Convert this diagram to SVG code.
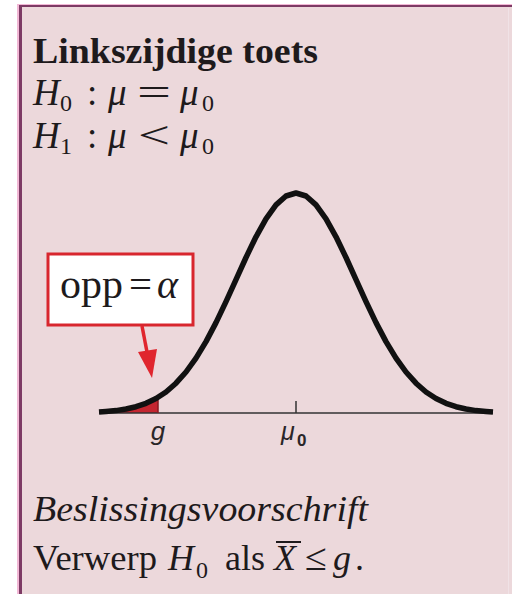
<svg xmlns="http://www.w3.org/2000/svg" width="512" height="594" viewBox="0 0 512 594">
<defs>
<style>
.t{font-family:"Liberation Serif","Times New Roman",serif;fill:#1e1a1c}
.i{font-style:italic}
.s{font-family:"Liberation Sans",Arial,sans-serif;fill:#2a2628}
</style>
</defs>
<rect x="0" y="0" width="512" height="594" fill="#ffffff"/>
<g id="panel">
<rect x="17" y="4" width="495" height="590" fill="#f2b8d6"/>
<rect x="20" y="6" width="492" height="588" fill="#ecd8db"/>
<line x1="508.5" y1="8" x2="508.5" y2="594" stroke="#f0e2e6" stroke-width="1"/>
<line x1="20.5" y1="5" x2="20.5" y2="594" stroke="#7d3a64" stroke-width="3"/>
<line x1="19" y1="6" x2="512" y2="6" stroke="#7d3a64" stroke-width="2"/>
</g>
<g id="title">
<text class="t" x="33" y="63" font-size="36" font-weight="bold" textLength="285" lengthAdjust="spacingAndGlyphs">Linkszijdige toets</text>
</g>
<g id="hypotheses" class="t" font-size="37">
<text class="t i" x="33" y="105">H</text>
<text class="t" x="60" y="111" font-size="24">0</text>
<text class="t" x="87" y="105">:</text>
<text class="t i" x="108" y="105">μ</text>
<text class="t" x="137" y="105" textLength="34" lengthAdjust="spacingAndGlyphs">=</text>
<text class="t i" x="180" y="105">μ</text>
<text class="t" x="202" y="111" font-size="24">0</text>
<text class="t i" x="33" y="148">H</text>
<text class="t" x="60" y="154" font-size="24">1</text>
<text class="t" x="87" y="148">:</text>
<text class="t i" x="108" y="148">μ</text>
<text class="t" x="138" y="148" textLength="32" lengthAdjust="spacingAndGlyphs">&lt;</text>
<text class="t i" x="180" y="148">μ</text>
<text class="t" x="202" y="154" font-size="24">0</text>
</g>
<g id="distribution">
<path d="M99,413 L99,412 L106,411.5 L116,410.6 L126,409 L136,406.7 L146,403.3 L156,398.5 L158,397.4 L158,413 Z" fill="#c42630"/>
<line x1="99" y1="413" x2="493" y2="413" stroke="#333" stroke-width="1.5"/>
<line x1="158" y1="397" x2="158" y2="413" stroke="#8a1a20" stroke-width="1.5"/>
<line x1="296" y1="401" x2="296" y2="413" stroke="#333" stroke-width="1.5"/>
<polyline fill="none" stroke="#111" stroke-width="5.5" stroke-linejoin="round" stroke-linecap="butt" points="99,412 106,411.5 116,410.6 126,409 136,406.7 146,403.3 156,398.5 166,392 176,383.2 186,372 196,358.1 206,341.6 216,322.6 226,301.6 236,279.6 246,257.5 256,236.8 266,218.8 276,204.9 286,196 296,193 306,196 316,204.9 326,218.8 336,236.8 346,257.5 356,279.6 366,301.6 376,322.6 386,341.6 396,358.1 406,372 416,383.2 426,392 436,398.5 446,403.3 456,406.7 466,409 476,410.6 486,411.5 493,412"/>
<text class="s i" x="158" y="440" font-size="26" text-anchor="middle">g</text>
<text class="s i" x="281" y="440" font-size="25">μ</text>
<text class="s" x="297" y="446" font-size="17" font-weight="bold">0</text>
</g>
<g id="callout">
<rect x="48" y="254" width="145" height="71" fill="#ffffff" stroke="#d8262e" stroke-width="3"/>
<text class="t" x="60" y="298" font-size="40" textLength="63" lengthAdjust="spacingAndGlyphs">opp</text>
<text class="t" x="129" y="298" font-size="40" textLength="23" lengthAdjust="spacingAndGlyphs">=</text>
<text class="t i" x="157" y="298" font-size="40">α</text>
</g>
<g id="connectors">
<line x1="142" y1="326" x2="147" y2="352" stroke="#e0262e" stroke-width="3.5"/>
<polygon points="152,378 138,352 157,349" fill="#e0262e"/>
</g>
<g id="rule">
<text class="t i" x="33" y="521" font-size="36" textLength="335" lengthAdjust="spacingAndGlyphs">Beslissingsvoorschrift</text>
<text class="t" x="33" y="570" font-size="36" textLength="124" lengthAdjust="spacingAndGlyphs">Verwerp</text>
<text class="t i" x="168" y="570" font-size="36">H</text>
<text class="t" x="196" y="578" font-size="24">0</text>
<text class="t" x="225" y="570" font-size="36" textLength="40" lengthAdjust="spacingAndGlyphs">als</text>
<text class="t i" x="274" y="570" font-size="36">X</text>
<line x1="276" y1="542" x2="301" y2="542" stroke="#1e1a1c" stroke-width="2"/>
<text class="t" x="305" y="570" font-size="38" textLength="22" lengthAdjust="spacingAndGlyphs">≤</text>
<text class="t i" x="333" y="570" font-size="36">g</text>
<text class="t" x="355" y="570" font-size="36">.</text>
</g>
</svg>
